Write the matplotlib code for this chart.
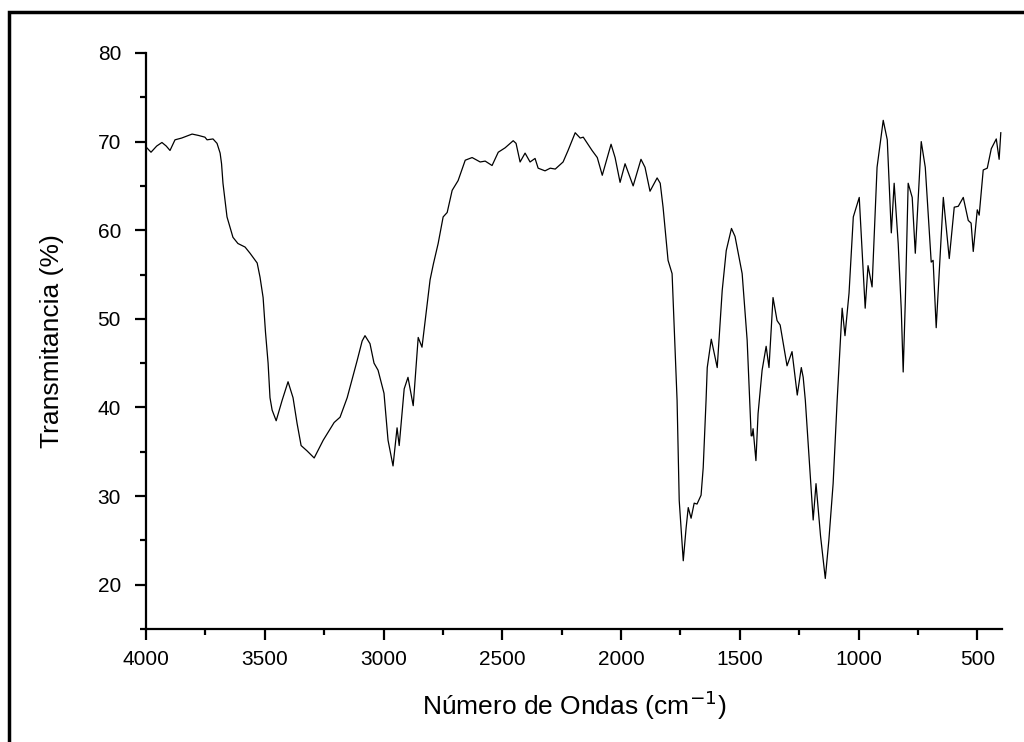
"""IR transmittance spectrum."""

import matplotlib

matplotlib.use("Agg")
import matplotlib.pyplot as plt  # noqa: E402
from matplotlib.patches import Rectangle  # noqa: E402
from matplotlib.ticker import MultipleLocator  # noqa: E402

plt.rcParams["font.family"] = ["Liberation Sans", "DejaVu Sans"]

# wavenumber (cm-1) and transmittance (%)
wavenumber = [
    4000, 3979, 3955, 3933, 3915, 3899, 3878, 3850, 3830, 3806, 3780, 3752, 3743,
    3718, 3701, 3695, 3688, 3682, 3676, 3668, 3659, 3634, 3613, 3583, 3562, 3532,
    3520, 3507, 3497, 3486, 3478, 3469, 3452, 3427, 3402, 3381, 3364, 3347, 3322,
    3292, 3254, 3208, 3183, 3153, 3111, 3090, 3078, 3057, 3040, 3023, 2998, 2981,
    2960, 2943, 2934, 2913, 2897, 2875, 2854, 2838, 2804, 2790, 2770, 2749, 2732,
    2711, 2686, 2656, 2627, 2593, 2572, 2543, 2517, 2488, 2454, 2442, 2425, 2404,
    2383, 2362, 2349, 2320, 2298, 2277, 2244, 2223, 2193, 2172, 2159, 2122, 2100,
    2079, 2042, 2025, 2004, 1983, 1949, 1916, 1899, 1878, 1848, 1835, 1823, 1802,
    1785, 1764, 1755, 1738, 1726, 1717, 1705, 1692, 1680, 1663, 1654, 1642, 1637,
    1620, 1595, 1574, 1557, 1535, 1520, 1490, 1469, 1452, 1448, 1444, 1432, 1423,
    1406, 1389, 1377, 1360, 1343, 1330, 1301, 1280, 1258, 1241, 1233, 1224, 1191,
    1179, 1160, 1140, 1125, 1107, 1090, 1069, 1057, 1040, 1022, 997, 972, 960, 943,
    922, 896, 879, 862, 850, 833, 820, 812, 803, 791, 774, 761, 736, 719, 694, 686,
    673, 643, 618, 597, 580, 559, 538, 526, 517, 500, 492, 475, 458, 441, 420, 408,
    401,
]
transmittance = [
    69.4, 68.8, 69.5, 69.9, 69.5, 69.0, 70.2, 70.4, 70.6, 70.85, 70.7, 70.5, 70.2,
    70.3, 69.8, 69.3, 68.7, 67.5, 65.3, 63.5, 61.5, 59.2, 58.5, 58.1, 57.4, 56.3,
    54.7, 52.4, 48.5, 45.0, 41.1, 39.7, 38.5, 40.8, 42.9, 41.1, 38.2, 35.7, 35.1,
    34.3, 36.3, 38.3, 38.9, 41.1, 45.3, 47.5, 48.1, 47.2, 45.0, 44.2, 41.6, 36.3,
    33.4, 37.7, 35.7, 42.1, 43.4, 40.2, 47.9, 46.8, 54.4, 56.2, 58.5, 61.5, 62.0,
    64.5, 65.6, 67.9, 68.2, 67.7, 67.8, 67.3, 68.8, 69.3, 70.1, 69.8, 67.7, 68.7,
    67.7, 68.1, 67.0, 66.7, 67.0, 66.9, 67.7, 69.0, 71.0, 70.4, 70.5, 69.0, 68.2,
    66.2, 69.7, 68.2, 65.4, 67.5, 65.0, 68.0, 67.1, 64.4, 65.9, 65.3, 62.6, 56.6,
    55.1, 40.8, 29.5, 22.7, 26.4, 28.7, 27.5, 29.2, 29.1, 30.1, 33.2, 40.8, 44.5,
    47.7, 44.5, 53.2, 57.7, 60.2, 59.3, 55.1, 47.6, 36.8, 36.8, 37.6, 34.0, 39.3,
    44.2, 46.9, 44.5, 52.4, 49.8, 49.3, 44.7, 46.3, 41.4, 44.5, 43.4, 40.8, 27.3,
    31.4, 25.5, 20.7, 25.0, 31.4, 40.8, 51.2, 48.1, 52.9, 61.5, 63.7, 51.2, 56.0,
    53.6, 67.1, 72.4, 70.2, 59.7, 65.3, 58.5, 51.0, 44.0, 52.0, 65.3, 63.7, 57.4,
    70.0, 67.1, 56.4, 56.6, 49.0, 63.7, 56.8, 62.6, 62.7, 63.7, 61.1, 60.8, 57.6,
    62.3, 61.7, 66.8, 67.0, 69.2, 70.3, 68.0, 71.0,
]

fig = plt.figure(figsize=(10.24, 7.42), dpi=100)
ax = fig.add_axes([0.1426, 0.1523, 0.8359, 0.7763])
ax.plot(wavenumber, transmittance, color="black", linewidth=0.9)

ax.set_xlim(4000, 396)
ax.set_ylim(15, 80)
ax.xaxis.set_major_locator(MultipleLocator(500))
ax.xaxis.set_minor_locator(MultipleLocator(250))
ax.yaxis.set_minor_locator(MultipleLocator(5))
ax.set_yticks([20, 30, 40, 50, 60, 70, 80])

for side in ("top", "right"):
    ax.spines[side].set_visible(False)
for side in ("left", "bottom"):
    ax.spines[side].set_linewidth(1.6)

ax.tick_params(which="major", direction="out", length=8, width=1.6, labelsize=15)
ax.tick_params(which="minor", direction="out", length=4.5, width=1.6)
ax.tick_params(axis="y", pad=10)
ax.tick_params(axis="x", pad=7)

ax.set_xlabel("Número de Ondas (cm$^{-1}$)", fontsize=19, labelpad=14)
ax.set_ylabel("Transmitancia (%)", fontsize=19, labelpad=24)

# outer frame around the figure (cut by the right and bottom edges)
fig.add_artist(Rectangle((9 / 1024, -0.1), 1.2, 1.0 - 12 / 742 + 0.1,
                         transform=fig.transFigure, fill=False,
                         edgecolor="black", linewidth=2.5))

fig.savefig("out.png", dpi=100)
plt.close(fig)
